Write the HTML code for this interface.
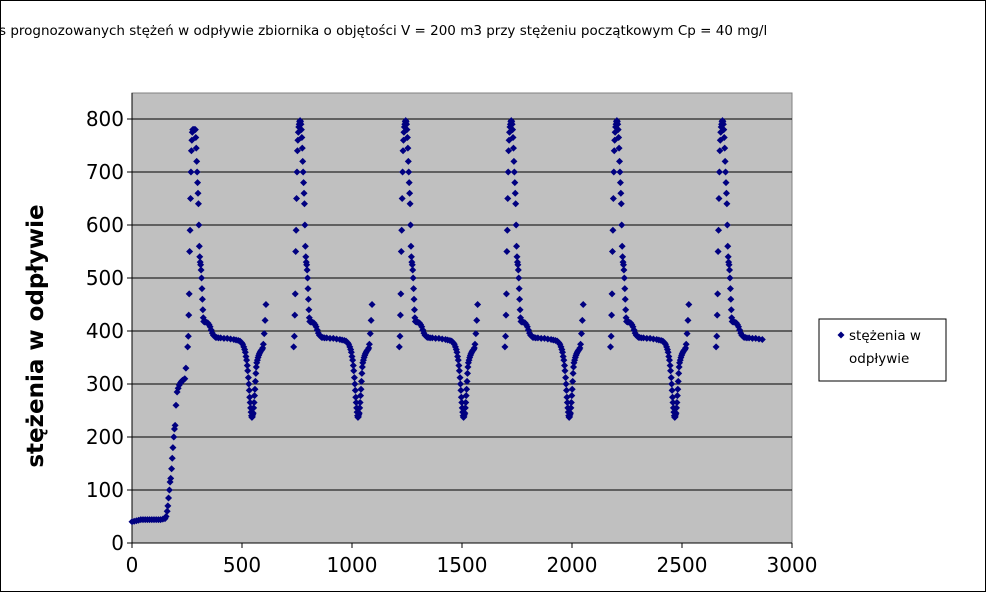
<!DOCTYPE html>
<html><head><meta charset="utf-8"><style>
body{margin:0;background:#fff;}
#wrap{position:relative;width:986px;height:592px;overflow:hidden;box-sizing:border-box;border:1px solid #000;font-family:"Liberation Sans","DejaVu Sans",sans-serif;}
#title{position:absolute;left:-2px;top:22px;white-space:nowrap;font-size:13.5px;font-family:"DejaVu Sans",sans-serif;}
</style></head><body>
<div id="wrap">
<div id="title">s prognozowanych stężeń w odpływie zbiornika o objętości V = 200 m3 przy stężeniu początkowym Cp = 40 mg/l</div>
<svg id="svg" width="986" height="592" style="position:absolute;left:0;top:0"></svg>
</div>
<script>
const xTicks=[0,500,1000,1500,2000,2500,3000];
const yTicks=[0,100,200,300,400,500,600,700,800];
const startX=[0,10,20,30,40,50,60,70,80,90,100,110,120,130,140,150,155,160,163,166,170,173,176,180,183,186,190,193,196,200,205,210,215,220,225,230,235,240,245];
const startY=[40,41,42,43,44,44,44,44,44,44,44,44,44,44,45,46,50,60,70,85,100,115,122,140,160,180,200,215,222,260,285,292,298,302,305,307,308,310,330];
const cycleOffsets=[-30,-27,-25,-23,-21,-19,-17,-15,-13,-11,-9,-7,-5,-3,-1,1,3,5,7,9,11,13,15,17,19,21,23,25,27,29,31,33,35,37,39,41,43,47,52,57,62,67,72,77,82,87,92,97,102,110,120,135,150,165,180,190,200,208,215,220,225,229,232,235,238,241,243,246,248,250,252,254,256,258,260,262,264,266,268,270,272,274,276,278,280,282,284,287,290,293,296,299,302,305,308,311,314,318,322,326];
const cycleValues=[370,390,430,470,550,590,650,700,740,760,775,785,790,795,797,795,790,780,765,745,720,700,680,660,640,600,560,540,530,525,515,500,480,460,440,425,418,417,417,416,415,412,408,402,396,392,390,388,388,387,387,386,386,385,384,383,382,381,378,375,370,365,360,352,345,335,325,312,300,288,275,265,255,247,240,237,238,242,245,255,265,278,290,305,320,332,340,345,350,354,357,360,362,364,365,368,375,395,420,450];
const peakCenters=[283,765,1245,1725,2205,2685];
const peakMax=[780,797,797,797,797,797];
const lastOffset=[450,450,450,450,450,185];

const svg=document.getElementById('svg');
const NS='http://www.w3.org/2000/svg';
const L=131,R=791,T=92,B=542;
const xs=v=>L+(v-0)/(3000-0)*(R-L);
const ys=v=>B-(v-0)/(800-0)*(542-118);
function mk(tag,at){const e=document.createElementNS(NS,tag);for(const k in at)e.setAttribute(k,at[k]);svg.appendChild(e);return e;}
let bg=mk('rect',{x:L,y:T,width:R-L,height:B-T,fill:'#c0c0c0',stroke:'#808080'});


yTicks.forEach(t=>{
 if(t>0){let g=mk('line',{x1:L,x2:R,y1:ys(t),y2:ys(t),stroke:'#000','stroke-width':1});
 
 }
 let tk=mk('line',{x1:L-5,x2:L,y1:ys(t),y2:ys(t),stroke:'#000'});
 
 
 let tx=mk('text',{x:L-8,y:ys(t)+7,'text-anchor':'end','font-size':20,'font-family':'DejaVu Sans, sans-serif'});
 tx.textContent=t;
 
 
});
xTicks.forEach(t=>{
 let tk=mk('line',{x1:xs(t),x2:xs(t),y1:B,y2:B+5,stroke:'#000'});
 
 
 let tx=mk('text',{x:xs(t),y:B+29,'text-anchor':'middle','font-size':20,'font-family':'DejaVu Sans, sans-serif'});
 tx.textContent=t;
 
 
});
let ax=mk('line',{x1:L,x2:L,y1:T,y2:B,stroke:'#000'});


let axx=mk('line',{x1:L,x2:R,y1:B,y2:B,stroke:'#000'});


let yt=mk('text',{x:0,y:0,transform:'translate(42,335) rotate(-90)','text-anchor':'middle','font-size':23,'font-weight':'bold','font-family':'DejaVu Sans, sans-serif'});
yt.textContent='stężenia w odpływie';


function pt(x,y){
 const px=xs(x),py=ys(y);
 let p=mk('polygon',{points:`${px},${py-3.5} ${px+3.5},${py} ${px},${py+3.5} ${px-3.5},${py}`,fill:'#000080'});
 
 
}
startX.forEach((x,i)=>pt(x,startY[i]));
peakCenters.forEach((c,k)=>{
 cycleOffsets.forEach((o,i)=>{
  if(o>lastOffset[k])return;
  pt(c+o,Math.min(cycleValues[i],peakMax[k]));
 });
 if(k===peakCenters.length-1){[195,200,205,210,215,220,225,230,240,250,260].forEach(()=>{});}
});
// legend
let lg=mk('rect',{x:818,y:318,width:127,height:62,fill:'#fff',stroke:'#000'});


let lm=mk('polygon',{points:'840,330.5 843.5,334 840,337.5 836.5,334',fill:'#000080'});


let l1=mk('text',{x:848,y:339,'font-size':13.5,'font-family':'DejaVu Sans, sans-serif'});
l1.textContent='stężenia w';


let l2=mk('text',{x:848,y:362,'font-size':13.5,'font-family':'DejaVu Sans, sans-serif'});
l2.textContent='odpływie';


</script>
</body></html>
